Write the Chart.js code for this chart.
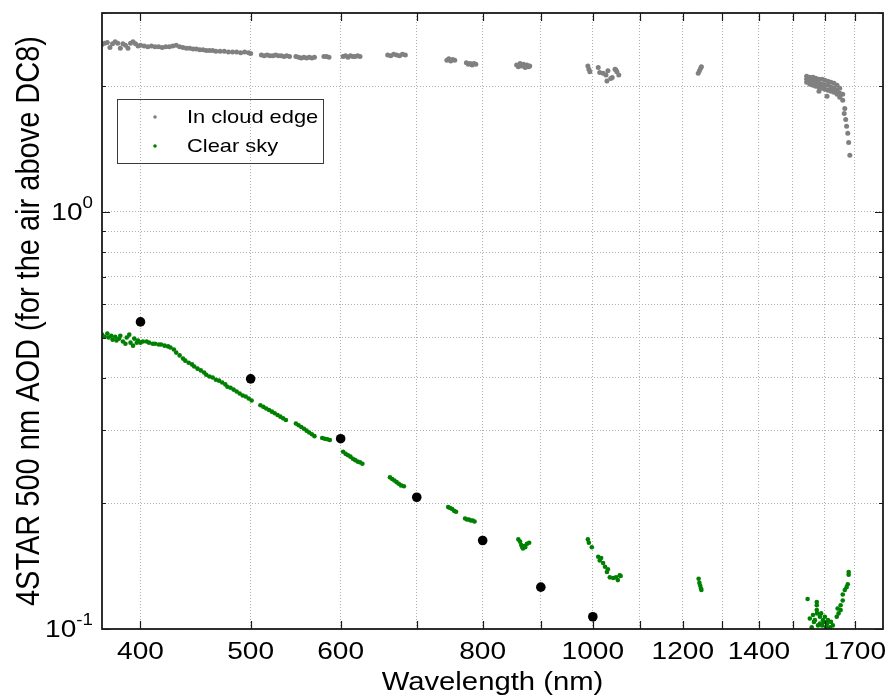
<!DOCTYPE html>
<html>
<head>
<meta charset="utf-8">
<title>4STAR AOD spectrum</title>
<script src="https://cdn.jsdelivr.net/npm/chart.js@4.4.0/dist/chart.umd.min.js"></script>
<style>
  html, body { margin: 0; padding: 0; background: #ffffff; }
  #chart { display: block; }
</style>
</head>
<body>
<canvas id="chart" width="889" height="697"></canvas>
<script>
// ---- Data -------------------------------------------------------------
// "In cloud edge" spectrum (wavelength in nm, AOD)
const cloudEdgeWavelength = [
  370, 372, 374, 376, 378, 380, 382, 384, 386, 388, 390, 392, 394, 396, 398, 400,
  403, 406, 409, 412, 415, 418, 421, 424, 427, 430, 433, 436, 439, 442, 445, 448,
  451, 454, 457, 460, 463, 466, 470, 474, 478, 482, 486, 490, 494, 498, 500,
  511, 514, 517, 520, 523, 526, 529, 532, 535, 538, 541,
  548, 551, 554, 557, 560, 563, 566, 569,
  580, 583, 586,
  603, 606, 609, 612, 615, 618, 621, 624,
  660, 664, 668, 672, 676, 680, 684,
  744, 747, 750, 753, 756,
  774, 777, 780, 783, 786, 789,
  857, 860, 863, 866, 869, 872, 875, 878, 880,
  990, 992, 994, 1011, 1014, 1021, 1027, 1031, 1029, 1037, 1040, 1046, 1050, 1054, 1048,
  1238, 1241, 1244, 1246,
  1542, 1542, 1542, 1552, 1552, 1552, 1562, 1562, 1562, 1571, 1571, 1571,
  1581, 1581, 1581, 1581, 1591, 1591, 1591, 1600, 1600, 1600, 1607,
  1610, 1610, 1610, 1620, 1620, 1620, 1630, 1630, 1630, 1640, 1640, 1640,
  1649, 1649, 1649, 1659, 1659,
  1666, 1664, 1669, 1672, 1676, 1679, 1683
];
const cloudEdgeAOD = [
  2.52, 2.54, 2.55, 2.48, 2.53, 2.56, 2.54, 2.47, 2.53, 2.51, 2.47, 2.54, 2.56, 2.53, 2.50, 2.51,
  2.50, 2.49, 2.50, 2.49, 2.49, 2.48, 2.49, 2.49, 2.50, 2.51, 2.49, 2.48, 2.47, 2.47, 2.46, 2.46,
  2.45, 2.45, 2.44, 2.44, 2.44, 2.43, 2.43, 2.43, 2.42, 2.42, 2.42, 2.41, 2.42, 2.41, 2.40,
  2.38, 2.37, 2.38, 2.37, 2.37, 2.38, 2.37, 2.37, 2.36, 2.37, 2.36,
  2.36, 2.35, 2.34, 2.35, 2.34, 2.35, 2.34, 2.35,
  2.36, 2.36, 2.35,
  2.36, 2.37, 2.35, 2.37, 2.36, 2.36, 2.37, 2.36,
  2.38, 2.37, 2.39, 2.38, 2.37, 2.39, 2.38,
  2.31, 2.33, 2.30, 2.32, 2.31,
  2.28, 2.26, 2.27, 2.25, 2.27, 2.26,
  2.25, 2.23, 2.27, 2.24, 2.26, 2.22, 2.25, 2.23, 2.24,
  2.24, 2.20, 2.17, 2.22, 2.16, 2.15, 2.13, 2.18, 2.06, 2.09, 2.10, 2.20, 2.17, 2.13, 2.19,
  2.15, 2.18, 2.21, 2.23,
  2.115, 2.081, 2.046, 2.104, 2.069, 2.024, 2.104, 2.058, 2.013, 2.092, 2.046, 2.001,
  2.081, 2.035, 1.990, 1.947, 2.081, 2.024, 1.979, 2.069, 2.013, 1.968, 1.894,
  2.058, 2.013, 1.958, 2.046, 1.990, 1.947, 2.035, 1.979, 1.936, 2.013, 1.958, 1.915,
  1.979, 1.926, 1.884, 1.915, 1.854,
  1.771, 1.723, 1.667, 1.605, 1.545, 1.468, 1.368
];

// "Clear sky" spectrum (wavelength in nm, AOD)
const clearSkyWavelength = [
  370, 372, 374, 375, 377, 378, 380, 381, 383, 384, 386, 388, 389, 391, 392, 394,
  395, 397, 398, 400, 402, 405, 407, 410, 412, 415, 417, 420, 423, 425, 428, 430,
  433, 436, 438, 441, 444, 446, 449, 452, 455, 457, 460, 463, 466, 469, 472, 475,
  477, 480, 483, 486, 489, 492, 495, 498, 501,
  510, 513, 516, 519, 522, 525, 528, 531, 534, 537,
  548, 551, 554, 557, 560, 563, 566, 569,
  578, 581, 584, 587,
  603, 606, 609, 612, 615, 618, 621, 624, 627,
  663, 666, 669, 672, 675, 678, 682,
  746, 749, 752, 755, 758,
  772, 775, 778, 781, 784, 787,
  860, 863, 865, 867, 868, 870, 872, 875, 879,
  990, 992, 998, 1011, 1014, 1017, 1021, 1025, 1029, 1031, 1035, 1042, 1048, 1052, 1056, 1058,
  1239, 1241, 1243, 1245, 1246,
  1545, 1574, 1574, 1562, 1552, 1568, 1584, 1594, 1600, 1607, 1578, 1558, 1616, 1626,
  1639, 1642, 1652, 1659, 1659, 1666, 1672, 1676, 1679, 1679, 1652, 1645, 1591, 1610,
  1565, 1588, 1597, 1604, 1620, 1584, 1574, 1575
];
const clearSkyAOD = [
  0.508, 0.502, 0.511, 0.500, 0.505, 0.494, 0.502, 0.492, 0.497, 0.505, 0.489, 0.483, 0.500, 0.508, 0.486, 0.478,
  0.497, 0.486, 0.492, 0.486, 0.489, 0.489, 0.486, 0.483, 0.483, 0.481, 0.481, 0.478, 0.476, 0.473, 0.468, 0.460,
  0.453, 0.445, 0.440, 0.435, 0.431, 0.426, 0.421, 0.417, 0.412, 0.407, 0.403, 0.401, 0.396, 0.394, 0.390, 0.386,
  0.381, 0.379, 0.375, 0.371, 0.367, 0.363, 0.361, 0.357, 0.353,
  0.344, 0.341, 0.338, 0.335, 0.332, 0.329, 0.326, 0.323, 0.320, 0.317,
  0.311, 0.308, 0.305, 0.302, 0.299, 0.296, 0.293, 0.290,
  0.287, 0.286, 0.285, 0.284,
  0.266, 0.263, 0.261, 0.259, 0.256, 0.254, 0.252, 0.251, 0.249,
  0.231, 0.229, 0.227, 0.225, 0.223, 0.221, 0.220,
  0.196, 0.195, 0.194, 0.192, 0.191,
  0.184, 0.183, 0.183, 0.182, 0.182, 0.181,
  0.164, 0.162, 0.159, 0.157, 0.156, 0.158, 0.157, 0.160, 0.161,
  0.164, 0.161, 0.157, 0.149, 0.146, 0.148, 0.144, 0.141, 0.137, 0.139, 0.133, 0.1325, 0.133, 0.131, 0.1346, 0.134,
  0.132, 0.129, 0.127, 0.125, 0.124,
  0.118, 0.114, 0.111, 0.108, 0.106, 0.105, 0.107, 0.105, 0.107, 0.103, 0.102, 0.101, 0.101, 0.102,
  0.107, 0.112, 0.114, 0.117, 0.121, 0.124, 0.126, 0.128, 0.135, 0.137, 0.111, 0.109, 0.102, 0.105,
  0.104, 0.109, 0.104, 0.101, 0.104, 0.103, 0.116, 0.109
];

// Reference 500 nm-scaled values at the filter wavelengths
const refWavelength = [400, 500, 600, 700, 800, 900, 1000];
const refAOD = [0.545, 0.398, 0.286, 0.207, 0.163, 0.126, 0.107];

// Axis ticks
const xTickValues = [400, 500, 600, 700, 800, 900, 1000, 1100, 1200, 1300, 1400, 1500, 1600, 1700];
const xLabeledTicks = [400, 500, 600, 800, 1000, 1200, 1400, 1700];
const yTickValues = [0.1, 0.2, 0.3, 0.4, 0.5, 0.6, 0.7, 0.8, 0.9, 1, 2, 3];
const yDecadeTicks = [0.1, 1];
const yDecadeExponents = ['-1', '0'];

const seriesNames = ['In cloud edge', 'Clear sky'];

// ---- Styling helpers -------------------------------------------------
const FONT = '"Liberation Sans", Arial, Helvetica, sans-serif';
const WIDE = 1.17;   // horizontal widening of the lettering

function wideText(ctx, text, x, y, size, align, baseline, sx) {
  ctx.save();
  ctx.font = size + 'px ' + FONT;
  ctx.textAlign = align;
  ctx.textBaseline = baseline;
  ctx.translate(x, y);
  ctx.scale(sx, 1);
  ctx.fillText(text, 0, 0);
  ctx.restore();
}

function pairs(xs, ys) {
  return xs.map((w, i) => ({ x: w, y: ys[i] }));
}

// Frame, inward tick marks, tick labels, axis titles and the boxed legend
const framePlugin = {
  id: 'frame',
  afterDraw(chart) {
    const ctx = chart.ctx;
    const { left, right, top, bottom } = chart.chartArea;
    const xs = chart.scales.x, ys = chart.scales.y;
    ctx.save();
    ctx.fillStyle = '#000';
    ctx.strokeStyle = '#1a1a1a';
    ctx.lineWidth = 1.2;

    // x tick marks (bottom and top, pointing inward)
    ctx.beginPath();
    xTickValues.forEach(v => {
      const px = Math.round(xs.getPixelForValue(v)) + 0.5;
      ctx.moveTo(px, bottom); ctx.lineTo(px, bottom - 8);
      ctx.moveTo(px, top); ctx.lineTo(px, top + 8);
    });
    // y tick marks (left and right)
    yTickValues.forEach(v => {
      const py = Math.round(ys.getPixelForValue(v)) + 0.5;
      const len = yDecadeTicks.includes(v) ? 8 : 4;
      ctx.moveTo(left, py); ctx.lineTo(left + len, py);
      ctx.moveTo(right, py); ctx.lineTo(right - len, py);
    });
    ctx.stroke();

    // axes box
    ctx.lineWidth = 1.8;
    ctx.strokeRect(left, top, right - left, bottom - top);

    // x tick labels
    xLabeledTicks.forEach(v => {
      wideText(ctx, String(v), xs.getPixelForValue(v), bottom + 23, 24, 'center', 'middle', WIDE);
    });

    // y tick labels as powers of ten
    yDecadeTicks.forEach((v, i) => {
      const py = ys.getPixelForValue(v);
      ctx.font = '16px ' + FONT;
      const supW = ctx.measureText(yDecadeExponents[i]).width * WIDE;
      const xr = left - 9;
      wideText(ctx, yDecadeExponents[i], xr, py - 4, 16, 'right', 'alphabetic', WIDE);
      wideText(ctx, '10', xr - supW, py + 1, 24, 'right', 'middle', WIDE);
    });

    // axis titles
    wideText(ctx, 'Wavelength (nm)', (left + right) / 2, 683, 25, 'center', 'middle', WIDE);
    ctx.save();
    ctx.translate(30, (top + bottom) / 2);
    ctx.rotate(-Math.PI / 2);
    ctx.scale(1, 1.15);
    ctx.font = '29px ' + FONT;
    ctx.textAlign = 'center';
    ctx.textBaseline = 'middle';
    ctx.fillText('4STAR 500 nm AOD (for the air above DC8)', 0, 0);
    ctx.restore();

    // legend box
    ctx.lineWidth = 1;
    ctx.strokeStyle = '#3a3a3a';
    ctx.strokeRect(117.5, 99.5, 206, 64);
    const rows = [117, 146];
    [0, 1].forEach(i => {
      const ds = chart.data.datasets[i];
      ctx.beginPath();
      ctx.fillStyle = ds.backgroundColor;
      ctx.arc(155, rows[i], 1.8, 0, Math.PI * 2);
      ctx.fill();
      ctx.fillStyle = '#000';
      wideText(ctx, ds.label, 187, rows[i] + 1, 19, 'left', 'middle', 1.15);
    });
    ctx.restore();
  }
};

const gridStyle = { color: '#b0b0b0', lineWidth: 1, drawTicks: false };

new Chart(document.getElementById('chart'), {
  type: 'scatter',
  data: {
    datasets: [
      {
        label: seriesNames[0],
        data: pairs(cloudEdgeWavelength, cloudEdgeAOD),
        backgroundColor: '#808080',
        borderColor: '#808080',
        pointRadius: 2.5,
        pointBorderWidth: 0
      },
      {
        label: seriesNames[1],
        data: pairs(clearSkyWavelength, clearSkyAOD),
        backgroundColor: '#008000',
        borderColor: '#008000',
        pointRadius: 2.3,
        pointBorderWidth: 0
      },
      {
        label: 'Filter',
        data: pairs(refWavelength, refAOD),
        backgroundColor: '#000000',
        borderColor: '#000000',
        pointRadius: 4.8,
        pointBorderWidth: 0
      }
    ]
  },
  options: {
    responsive: false,
    animation: false,
    devicePixelRatio: 1,
    events: [],
    layout: { padding: { top: 13, right: 6, left: 0, bottom: 0 } },
    plugins: {
      legend: { display: false },
      tooltip: { enabled: false }
    },
    scales: {
      x: {
        type: 'logarithmic',
        position: 'bottom',
        min: 370,
        max: 1800,
        afterBuildTicks: s => { s.ticks = xTickValues.map(v => ({ value: v })); },
        ticks: { display: false },
        grid: gridStyle,
        border: { display: false, dash: [1, 2] },
        afterFit: s => { s.height = 68; }
      },
      y: {
        type: 'logarithmic',
        position: 'left',
        min: 0.1,
        max: 3,
        afterBuildTicks: s => { s.ticks = yTickValues.map(v => ({ value: v })); },
        ticks: { display: false },
        grid: gridStyle,
        border: { display: false, dash: [1, 2] },
        afterFit: s => { s.width = 102; }
      }
    }
  },
  plugins: [framePlugin]
});
</script>
</body>
</html>
